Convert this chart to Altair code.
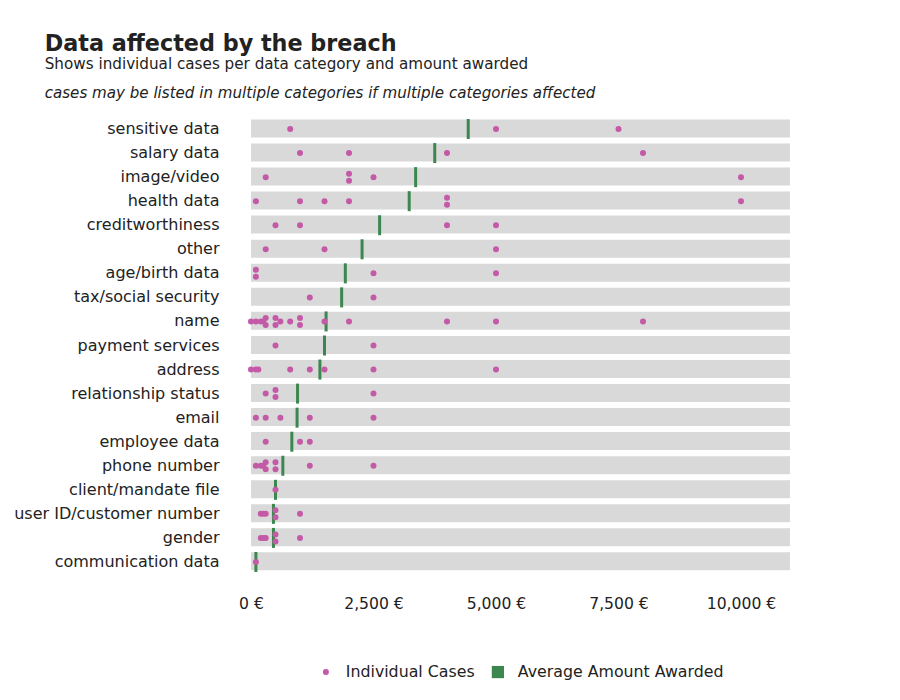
import altair as alt
import pandas as pd

categories = [
    "sensitive data", "salary data", "image/video", "health data",
    "creditworthiness", "other", "age/birth data", "tax/social security",
    "name", "payment services", "address", "relationship status", "email",
    "employee data", "phone number", "client/mandate file",
    "user ID/customer number", "gender", "communication data",
]

sensitive_data = [800, 5000, 7500]
salary_data = [1000, 2000, 4000, 8000]
image_video = [300, 2000, 2000, 2500, 10000]
health_data = [100, 1000, 1500, 2000, 4000, 4000, 10000]
creditworthiness = [500, 1000, 4000, 5000]
other = [300, 1500, 5000]
age_birth_data = [100, 100, 2500, 5000]
tax_social_security = [1200, 2500]
name = [0, 100, 200, 250, 300, 300, 500, 500, 600, 800, 1000, 1000, 1500, 2000, 4000, 5000, 8000]
payment_services = [500, 2500]
address = [0, 100, 150, 800, 1200, 1500, 2500, 5000]
relationship_status = [300, 500, 500, 2500]
email = [100, 300, 600, 1200, 2500]
employee_data = [300, 1000, 1200]
phone_number = [100, 200, 250, 300, 300, 500, 500, 1200, 2500]
client_mandate_file = [500]
user_id_customer_number = [200, 250, 300, 500, 500, 1000]
gender = [200, 250, 300, 500, 500, 1000]
communication_data = [100]

case_values = [
    sensitive_data, salary_data, image_video, health_data, creditworthiness,
    other, age_birth_data, tax_social_security, name, payment_services,
    address, relationship_status, email, employee_data, phone_number,
    client_mandate_file, user_id_customer_number, gender, communication_data,
]

x_ticks = [0, 2500, 5000, 7500, 10000]
x_max = 11000
series_names = ["Individual Cases", "Average Amount Awarded"]

rows = [{"category": c, "amount": v, "series": series_names[0]}
        for c, vals in zip(categories, case_values) for v in vals]
df = pd.DataFrame(rows)
bg = pd.DataFrame({"category": categories})

FONT = "DejaVu Sans"
PINK = "#c459a8"
GREEN = "#3b874f"
W, H = 539, 457
N = len(categories)
PAD_IN, PAD_OUT = 0.2, 0.1
STEP = H / (N - PAD_IN + 2 * PAD_OUT)
BANDW = STEP * (1 - PAD_IN)

y_enc = alt.Y(
    "category:N", sort=categories, title=None,
    scale=alt.Scale(paddingInner=PAD_IN, paddingOuter=PAD_OUT),
    axis=alt.Axis(labelFontSize=16, labelPadding=32, ticks=False, domain=False,
                  labelColor="#222222", labelFont=FONT, grid=False, labelLimit=400),
)
x_scale = alt.Scale(domain=[0, x_max], nice=False)
x_axis = alt.Axis(values=x_ticks, format=",.0f", labelExpr="datum.label + ' €'",
                  ticks=False, domain=False, grid=False, labelFontSize=15.6,
                  labelFont=FONT, labelColor="#222222", labelPadding=22,
                  labelFlush=False)

color_scale = alt.Scale(domain=series_names, range=[PINK, GREEN])
shape_scale = alt.Scale(domain=series_names, range=["circle", "square"])
size_scale = alt.Scale(domain=series_names, range=[36, 150])
legend = alt.Legend(orient="none", legendX=67, legendY=547, direction="horizontal",
                    title=None, labelFontSize=15.8, labelFont=FONT,
                    labelColor="#222222", columnPadding=15, symbolStrokeWidth=0,
                    labelOffset=12, labelLimit=400)

background = alt.Chart(bg).mark_bar(color="#d9d9d9").encode(
    y=y_enc,
    x=alt.X(datum=0, scale=x_scale, axis=x_axis, title=None),
    x2=alt.X2(datum=x_max),
)

avg = alt.Chart(df).transform_aggregate(
    mean_amount="mean(amount)", groupby=["category"]
).transform_calculate(
    series="'Average Amount Awarded'"
).mark_tick(thickness=3, size=20, opacity=1).encode(
    x=alt.X("mean_amount:Q", scale=x_scale, axis=x_axis, title=None),
    y=y_enc,
    color=alt.Color("series:N", scale=color_scale, legend=legend, title=None),
)

points = alt.Chart(df).transform_window(
    rn="row_number()", groupby=["category", "amount"]
).transform_joinaggregate(
    cnt="count()", groupby=["category", "amount"]
).transform_calculate(
    off="(datum.rn - (datum.cnt + 1) / 2) * 7"
).mark_point(filled=True, opacity=1).encode(
    x=alt.X("amount:Q", scale=x_scale, axis=x_axis, title=None),
    y=y_enc,
    yOffset=alt.YOffset("off:Q", scale=alt.Scale(domain=[-BANDW / 2, BANDW / 2],
                                                 range=[0, BANDW])),
    color=alt.Color("series:N", scale=color_scale, legend=legend, title=None),
    shape=alt.Shape("series:N", scale=shape_scale, legend=legend, title=None),
    size=alt.Size("series:N", scale=size_scale, legend=legend, title=None),
)

inner = alt.layer(background, avg, points).properties(
    width=W, height=H,
    title=alt.TitleParams(
        "cases may be listed in multiple categories if multiple categories affected",
        anchor="start", frame="bounds", fontSize=15.1, font=FONT,
        fontStyle="italic", fontWeight="normal", color="#222222", dx=31, offset=16,
    ),
)

chart = alt.vconcat(inner).properties(
    title=alt.TitleParams(
        "Data affected by the breach",
        subtitle=["Shows individual cases per data category and amount awarded"],
        anchor="start", frame="bounds", fontSize=22.3, font=FONT, fontWeight="bold",
        color="#222222", subtitleFontSize=15.2, subtitleFont=FONT,
        subtitleColor="#222222", subtitlePadding=1, dx=31, offset=14,
    ),
    padding={"left": 5, "top": 25, "right": 5, "bottom": 5},
).configure_view(stroke=None)

chart.save("out.html", embed_options={"renderer": "svg", "actions": False})
